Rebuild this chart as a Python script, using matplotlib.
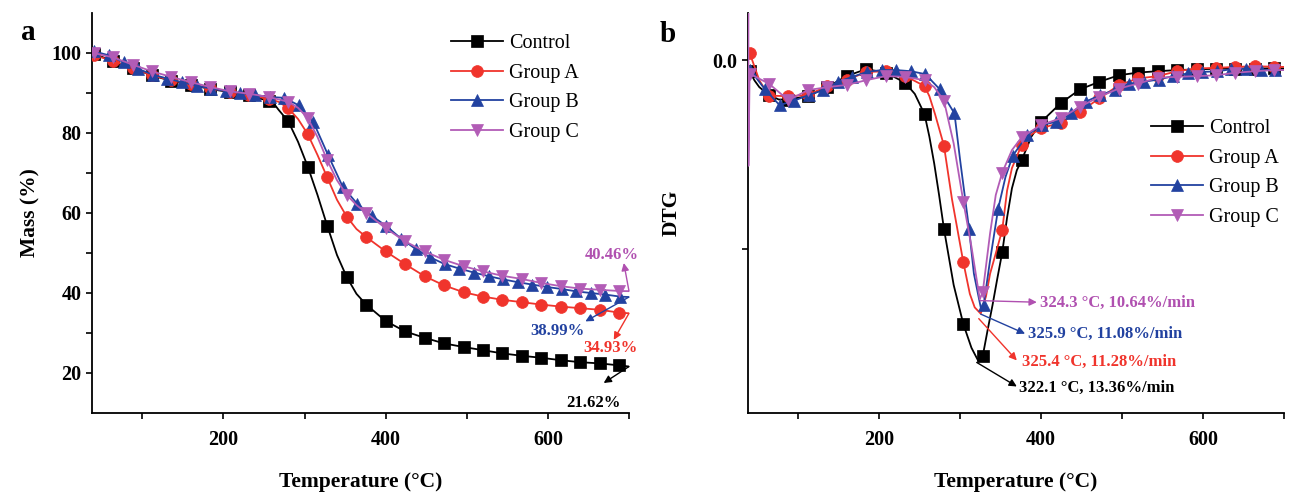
import numpy as np
import matplotlib
matplotlib.use("Agg")
import matplotlib.pyplot as plt
from matplotlib.ticker import MultipleLocator

plt.rcParams['font.family'] = ['Liberation Serif', 'DejaVu Serif']
plt.rcParams['mathtext.default'] = 'regular'

# ---------------- data ----------------
series_names = ["Control", "Group A", "Group B", "Group C"]
series_colors = ["#000000", "#F0342C", "#2242A0", "#B25CB6"]
series_markers = ["s", "o", "^", "v"]
label_colors = ["#000000", "#F0342C", "#2242A0", "#B050B0"]

# residual mass at 700 °C (%)
residual_mass = [21.62, 34.93, 38.99, 40.46]
# DTG peaks: temperature (°C) and maximum mass-loss rate (%/min)
peak_temp = [322.1, 325.4, 325.9, 324.3]
peak_rate = [13.36, 11.28, 11.08, 10.64]

# TG curves (temperature °C, mass %)
tg_control_T = [40, 64, 88, 112, 136, 160, 184, 208, 232, 256, 262, 268, 280, 292, 304, 316, 328,
                340, 352, 364, 376, 400, 424, 448, 472, 496, 520, 544, 568, 592, 616, 640, 664, 688, 700]
tg_control_m = [99.8, 98.0, 96.2, 94.4, 93.0, 92.0, 91.0, 90.2, 89.4, 88.0, 87.4, 85.8, 82.9, 77.8, 71.6,
                64.5, 56.8, 49.5, 44.0, 39.8, 37.1, 33.0, 30.4, 28.8, 27.4, 26.5, 25.7, 24.9, 24.3, 23.8,
                23.2, 22.7, 22.4, 21.9, 21.62]

tg_a_T = [40, 64, 88, 112, 136, 160, 184, 208, 232, 256, 268, 280, 292, 304, 316, 328, 340, 352, 364,
          376, 400, 424, 448, 472, 496, 520, 544, 568, 592, 616, 640, 664, 688, 700]
tg_a_m = [99.5, 98.0, 96.3, 94.4, 93.2, 92.2, 91.2, 90.3, 89.5, 88.5, 87.8, 86.2, 83.5, 79.7, 74.5,
          68.9, 63.3, 59.1, 56.0, 54.0, 50.4, 47.2, 44.2, 41.9, 40.2, 39.1, 38.3, 37.7, 37.1, 36.6,
          36.2, 35.8, 35.1, 34.93]

tg_b_T = [41, 59, 77, 95, 113, 131, 149, 167, 185, 203, 221, 239, 257, 275, 293, 311, 329, 347, 365,
          383, 401, 419, 437, 455, 473, 491, 509, 527, 545, 563, 581, 599, 617, 635, 653, 671, 689, 700]
tg_b_m = [100.4, 99.4, 97.7, 96.0, 94.6, 93.6, 92.7, 91.8, 91.1, 90.5, 90.0, 89.5, 89.0, 88.8, 86.9,
          82.7, 74.5, 66.6, 62.3, 59.3, 56.7, 53.6, 51.0, 48.9, 47.2, 46.1, 45.1, 44.2, 43.4, 42.7,
          42.1, 41.5, 41.0, 40.4, 40.0, 39.6, 39.1, 38.99]

tg_c_T = [40, 64, 88, 112, 136, 160, 184, 208, 232, 256, 280, 292, 304, 316, 328, 340, 352, 364, 376,
          400, 424, 448, 472, 496, 520, 544, 568, 592, 616, 640, 664, 688, 700]
tg_c_m = [100.0, 98.9, 97.1, 95.4, 94.0, 92.7, 91.5, 90.4, 89.8, 89.0, 87.8, 86.3, 83.7, 79.0, 73.2,
          68.2, 64.5, 62.0, 60.0, 56.2, 52.9, 50.4, 48.3, 46.7, 45.4, 44.3, 43.5, 42.5, 41.7, 41.1,
          40.8, 40.5, 40.46]

# DTG curves (temperature °C, rate %/min, negative = mass loss)
dtg_control_T = [40, 46, 52, 64, 76, 88, 112, 136, 160, 184, 208, 232, 244, 256, 262, 268, 274, 280,
                 292, 304, 314, 322.1, 328, 334, 340, 346, 352, 358, 364, 370, 376, 388, 400, 424, 448,
                 472, 496, 520, 544, 568, 592, 616, 640, 664, 688, 700]
dtg_control_v = [-0.5, -0.9, -1.2, -1.55, -1.75, -1.75, -1.6, -1.2, -0.7, -0.4, -0.55, -1.0, -1.5,
                 -2.4, -3.4, -4.6, -6.0, -7.5, -10.0, -11.75, -12.8, -13.36, -13.15, -12.0, -10.9,
                 -9.7, -8.55, -7.0, -5.7, -4.9, -4.45, -3.4, -2.75, -1.92, -1.3, -0.96, -0.67, -0.55,
                 -0.49, -0.44, -0.41, -0.38, -0.37, -0.37, -0.36, -0.36]

dtg_a_T = [40, 52, 64, 88, 112, 136, 160, 184, 208, 232, 256, 262, 269, 280, 290, 304, 312, 318,
           325.4, 332, 337, 344, 352, 358, 364, 376, 388, 400, 424, 448, 472, 496, 520, 544, 568,
           592, 616, 640, 664, 688, 700]
dtg_a_v = [0.33, -0.9, -1.58, -1.6, -1.55, -1.15, -0.89, -0.52, -0.5, -0.7, -1.15, -1.6, -2.4, -3.8,
           -6.2, -9.0, -10.4, -11.0, -11.28, -10.5, -9.5, -8.6, -7.55, -5.8, -4.8, -3.77, -3.3,
           -3.03, -2.78, -2.29, -1.70, -1.11, -0.81, -0.71, -0.49, -0.37, -0.34, -0.30, -0.27,
           -0.29, -0.3]

dtg_b_T = [41, 59, 77, 95, 113, 131, 149, 167, 185, 203, 221, 239, 257, 275, 293, 300, 311, 317,
           325.9, 329, 337, 347, 356, 365, 383, 401, 419, 437, 455, 473, 491, 509, 527, 545, 563,
           581, 599, 617, 635, 653, 671, 689, 700]
dtg_b_v = [-0.45, -1.3, -2.0, -1.8, -1.55, -1.33, -0.96, -0.74, -0.52, -0.44, -0.44, -0.49, -0.62,
           -1.3, -2.37, -4.45, -7.5, -9.5, -11.08, -10.9, -8.9, -6.6, -5.2, -4.25, -3.33, -2.88,
           -2.74, -2.37, -1.85, -1.55, -1.33, -1.04, -0.96, -0.86, -0.71, -0.59, -0.52, -0.50,
           -0.40, -0.38, -0.42, -0.44, -0.44]

dtg_c_T = [38.5, 38.5, 40, 64, 88, 112, 136, 160, 184, 208, 232, 256, 268, 280, 292, 304, 314, 324.3,
           328, 337, 344, 352, 364, 376, 400, 424, 448, 472, 496, 520, 544, 568, 592, 616, 640, 664,
           688, 700]
dtg_c_v = [3.0, -4.7, -0.6, -1.05, -1.78, -1.33, -1.2, -1.1, -0.89, -0.71, -0.74, -0.89, -1.2, -1.8,
           -3.7, -6.3, -8.3, -10.64, -10.3, -7.7, -6.0, -5.0, -4.0, -3.43, -2.88, -2.59, -2.07,
           -1.63, -1.26, -1.04, -0.78, -0.74, -0.71, -0.67, -0.56, -0.49, -0.44, -0.44]

# temperatures carrying a symbol
marker_T_24 = np.arange(40, 700, 24)
marker_T_18 = np.arange(41, 700, 18)
marker_sets = [marker_T_24, marker_T_24, marker_T_18, marker_T_24]

tg_data = [(tg_control_T, tg_control_m), (tg_a_T, tg_a_m), (tg_b_T, tg_b_m), (tg_c_T, tg_c_m)]
dtg_data = [(dtg_control_T, dtg_control_v), (dtg_a_T, dtg_a_v), (dtg_b_T, dtg_b_v), (dtg_c_T, dtg_c_v)]

marker_sizes = [8, 8.5, 9, 9]

# ---------------- figure ----------------
W, H = 1294, 492
fig = plt.figure(figsize=(W / 100, H / 100), dpi=100)
ax1 = fig.add_axes([92 / W, 79 / H, (629 - 92) / W, 400 / H])
ax2 = fig.add_axes([748 / W, 79 / H, (1284 - 748) / W, 400 / H])

tick_fs = 14.5
label_fs = 15.5
legend_fs = 14.5
ann_fs = 12


def draw_series(ax, data):
    for (T, v), name, col, mk, mset, ms in zip(data, series_names, series_colors,
                                               series_markers, marker_sets, marker_sizes):
        T = np.asarray(T, dtype=float)
        start = 2 if T[0] == T[1] else 0      # a leading spike gets no symbol
        idx = [i for i in range(start, len(T)) if np.any(np.isclose(T[i], mset))]
        ax.plot(T, v, color=col, lw=1.3, marker=mk, markevery=idx, ms=ms,
                mfc=col, mec=col, mew=0.5, label=name, zorder=3)


def style_axes(ax):
    for s in ("top", "right"):
        ax.spines[s].set_visible(False)
    for s in ("left", "bottom"):
        ax.spines[s].set_linewidth(1.3)
    ax.set_xlim(38, 700)
    ax.xaxis.set_major_locator(plt.FixedLocator([200, 400, 600]))
    ax.xaxis.set_minor_locator(MultipleLocator(100))
    ax.tick_params(axis="both", which="both", direction="out", length=4, width=1.2)
    ax.tick_params(axis="x", which="major", pad=8)
    for lab in ax.get_xticklabels() + ax.get_yticklabels():
        lab.set_fontweight("bold")
        lab.set_fontsize(tick_fs)
    ax.set_xlabel("Temperature (°C)", fontsize=label_fs, fontweight="bold", labelpad=16)


# ---- panel a: TG ----
draw_series(ax1, tg_data)
ax1.set_ylim(10, 110)
ax1.set_yticks([20, 40, 60, 80, 100])
ax1.yaxis.set_minor_locator(plt.FixedLocator([30, 50, 70, 90]))
style_axes(ax1)
ax1.set_ylabel("Mass (%)", fontsize=label_fs, fontweight="bold", labelpad=8)

# residual-mass call-outs: (arrow tip, text centre)
res_tip = [(668.8, 17.5), (681.2, 28.3), (646.2, 32.9), (693.6, 47.5)]
res_txt = [(656.5, 12.5), (677.1, 26.3), (611.3, 30.4), (679.2, 49.6)]
for val, tip, txt, col in zip(residual_mass, res_tip, res_txt, label_colors):
    ax1.annotate("", xy=tip, xytext=(700, val),
                 arrowprops=dict(arrowstyle="-|>", color=col, lw=1.0, mutation_scale=11,
                                 shrinkA=0, shrinkB=0), zorder=4)
    ax1.text(txt[0], txt[1], f"{val:.2f}%", color=col, fontsize=ann_fs, fontweight="bold",
             ha="center", va="center")

ax1.legend(loc="upper left", bbox_to_anchor=(0.668, 0.947), frameon=False,
           fontsize=legend_fs, handlelength=2.6, handletextpad=0.3, labelspacing=0.52,
           borderaxespad=0, borderpad=0)
fig.text(28 / W, 1 - 32 / H, "a", fontsize=21, fontweight="bold", ha="center", va="center")

# ---- panel b: DTG ----
draw_series(ax2, dtg_data)
ax2.set_ylim(-15.7, 2.1)
ax2.set_yticks([0, -8.4])
style_axes(ax2)
ax2.set_yticklabels(["0.0", ""], fontweight="bold", fontsize=tick_fs)
ax2.set_ylabel("DTG", fontsize=label_fs, fontweight="bold", labelpad=22)

pk_tip = [(370.0, -14.52), (370.0, -13.36), (380.2, -12.17), (394.7, -10.77)]
pk_txt = [(372.8, -14.57), (376.2, -13.41), (384.3, -12.16), (398.8, -10.81)]
pk_start = [(320.5, -13.45), (323.0, -11.5), (325.5, -11.3), (325.0, -10.7)]
for t, r, tip, txt, st, col in zip(peak_temp, peak_rate, pk_tip, pk_txt, pk_start, label_colors):
    ax2.annotate("", xy=tip, xytext=st,
                 arrowprops=dict(arrowstyle="-|>", color=col, lw=1.0, mutation_scale=11,
                                 shrinkA=0, shrinkB=0), zorder=4)
    ax2.text(txt[0], txt[1], f"{t:.1f} °C, {r:.2f}%/min", color=col, fontsize=ann_fs,
             fontweight="bold", ha="left", va="center")

ax2.legend(loc="upper left", bbox_to_anchor=(0.752, 0.735), frameon=False,
           fontsize=legend_fs, handlelength=2.6, handletextpad=0.3, labelspacing=0.52,
           borderaxespad=0, borderpad=0)
fig.text(668 / W, 1 - 34 / H, "b", fontsize=21, fontweight="bold", ha="center", va="center")

fig.savefig("out.png", dpi=100)
